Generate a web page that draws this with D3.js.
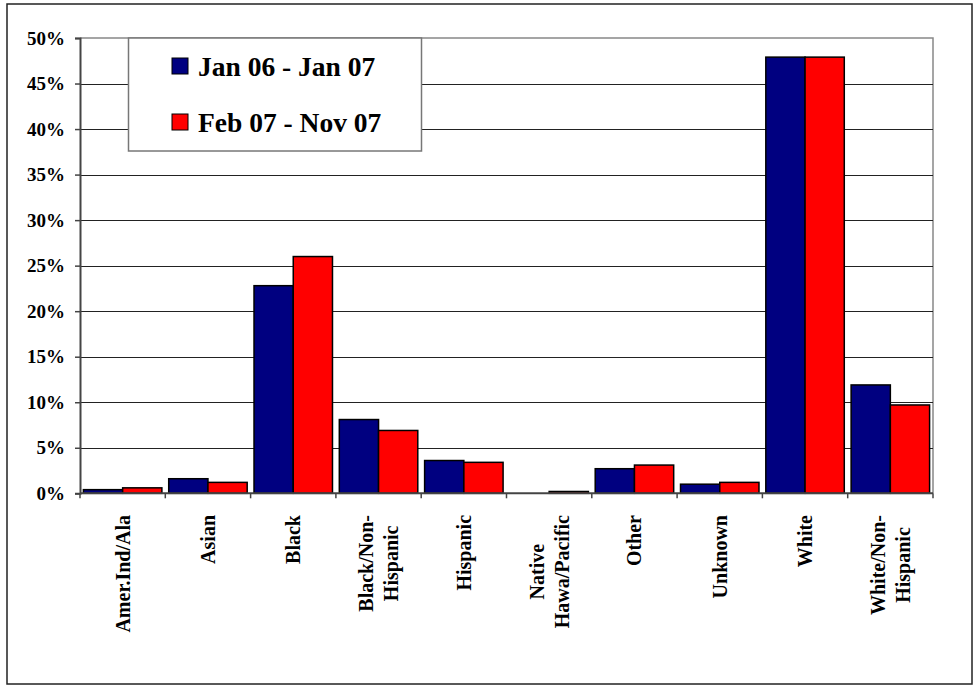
<!DOCTYPE html>
<html>
<head>
<meta charset="utf-8">
<script src="https://cdn.jsdelivr.net/npm/d3@7"></script>
<style>
  html, body { margin: 0; padding: 0; background: #fff; }
  svg { display: block; font-family: "Liberation Serif", "Times New Roman", serif; font-weight: bold; }
</style>
</head>
<body>
<svg id="chart" width="974" height="686"></svg>
<script>
// Race/ethnicity share of cases in two periods
const categories = ["Amer.Ind/Ala", "Asian", "Black", "Black/Non-\nHispanic", "Hispanic",
  "Native\nHawa/Pacific", "Other", "Unknown", "White", "White/Non-\nHispanic"];
const seriesNames = ["Jan 06 - Jan 07", "Feb 07 - Nov 07"];
const jan06Jan07 = [0.4, 1.6, 22.8, 8.1, 3.6, 0.0, 2.7, 1.0, 47.9, 11.9];
const feb07Nov07 = [0.6, 1.2, 26.0, 6.9, 3.4, 0.2, 3.1, 1.2, 47.9, 9.7];
const yTicks = [0, 5, 10, 15, 20, 25, 30, 35, 40, 45, 50];
const colors = ["#000080", "#FF0000"];

const seriesValues = [jan06Jan07, feb07Nov07];
const svg = d3.select("#chart");

// outer frame
svg.append("rect").attr("x", 7).attr("y", 4).attr("width", 965).attr("height", 680)
  .attr("fill", "#fff").attr("stroke", "#222").attr("stroke-width", 1.5);

const plot = { left: 80, right: 933, top: 38, bottom: 493.3 };

const x0 = d3.scaleBand().domain(categories).range([plot.left, plot.right])
  .paddingInner(0.08).paddingOuter(0.04);
const x1 = d3.scaleBand().domain(d3.range(seriesNames.length)).range([0, x0.bandwidth()]);
const y = d3.scaleLinear().domain([0, 50]).range([plot.bottom, plot.top]);

// plot area border (top and right)
svg.append("path")
  .attr("d", `M${plot.left},${plot.top}H${plot.right}V${plot.bottom}`)
  .attr("fill", "none").attr("stroke", "#888").attr("stroke-width", 1.5);

// horizontal gridlines
svg.append("g").selectAll("line").data(yTicks.filter(t => t > 0 && t < 50)).join("line")
  .attr("x1", plot.left).attr("x2", plot.right)
  .attr("y1", d => Math.round(y(d)) + 0.5).attr("y2", d => Math.round(y(d)) + 0.5)
  .attr("stroke", "#222").attr("stroke-width", 1);

// bars
const groups = svg.append("g").selectAll("g").data(categories).join("g")
  .attr("transform", d => `translate(${x0(d)},0)`);
groups.selectAll("rect")
  .data((d, i) => seriesValues.map((vals, s) => ({ s, v: vals[i] })))
  .join("rect")
  .attr("x", d => x1(d.s))
  .attr("width", x1.bandwidth())
  .attr("y", d => y(d.v))
  .attr("height", d => y(0) - y(d.v))
  .attr("fill", d => colors[d.s])
  .attr("stroke", "#000").attr("stroke-width", 1.5);

// y axis
const yAxis = d3.axisLeft(y).tickValues(yTicks).tickSize(5).tickPadding(10)
  .tickFormat(d => d + "%");
const yg = svg.append("g").attr("transform", `translate(${plot.left},0)`).call(yAxis);
yg.select(".domain").attr("stroke", "#444").attr("stroke-width", 2);
yg.selectAll(".tick line").attr("stroke", "#444").attr("stroke-width", 1.5);
yg.selectAll(".tick text").attr("font-family", "Liberation Serif, serif")
  .attr("font-weight", "bold").attr("font-size", 19).attr("fill", "#000");

// x axis baseline and boundary ticks
const boundaries = d3.range(categories.length + 1).map(i => plot.left + i * x0.step());
const xg = svg.append("g");
xg.append("line").attr("x1", plot.left).attr("x2", plot.right)
  .attr("y1", plot.bottom).attr("y2", plot.bottom)
  .attr("stroke", "#444").attr("stroke-width", 2);
xg.selectAll("line.tk").data(boundaries).join("line").attr("class", "tk")
  .attr("x1", d => d).attr("x2", d => d)
  .attr("y1", plot.bottom).attr("y2", plot.bottom + 5)
  .attr("stroke", "#444").attr("stroke-width", 1.5);

// rotated category labels: block top-aligned, lines centered
const labelTop = 515;
const lineGap = 25;
categories.forEach(cat => {
  const lines = cat.split("\n");
  const cx = x0(cat) + x0.bandwidth() / 2;
  const g = svg.append("g");
  const texts = lines.map((ln, i) => g.append("text")
    .attr("text-anchor", "middle")
    .attr("font-size", 20).attr("fill", "#000")
    .text(ln));
  const maxLen = d3.max(texts, t => t.node().getComputedTextLength());
  const midY = labelTop + maxLen / 2;
  texts.forEach((t, i) => {
    const lx = cx + (i - (lines.length - 1) / 2) * lineGap;
    t.attr("transform", `translate(${lx},${midY}) rotate(-90)`).attr("dy", "0.35em");
  });
});

// legend
const legend = svg.append("g");
legend.append("rect").attr("x", 128.5).attr("y", 38).attr("width", 293).attr("height", 113)
  .attr("fill", "#fff").attr("stroke", "#777").attr("stroke-width", 1.5);
seriesNames.forEach((name, i) => {
  const cy = 66 + i * 56;
  legend.append("rect").attr("x", 172).attr("y", cy - 8).attr("width", 16).attr("height", 16)
    .attr("fill", colors[i]).attr("stroke", "#000").attr("stroke-width", 1);
  legend.append("text").attr("x", 198).attr("y", cy + 9.5)
    .attr("font-size", 27.5).attr("fill", "#000").text(name);
});
</script>
</body>
</html>
